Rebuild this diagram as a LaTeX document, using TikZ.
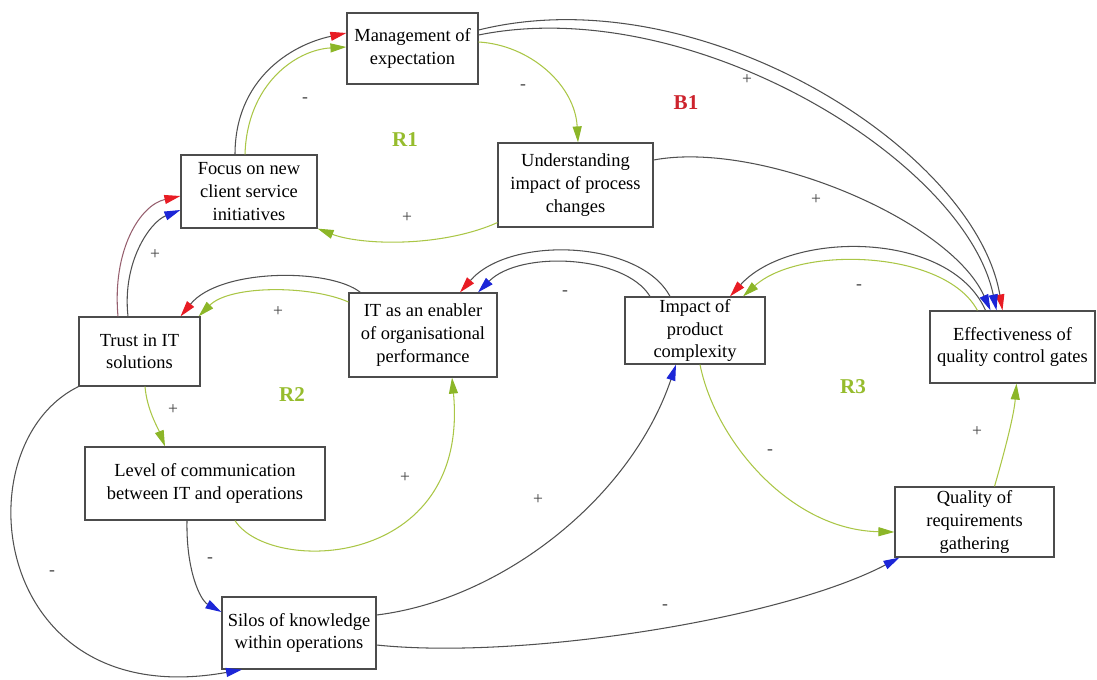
\documentclass[tikz,border=0pt]{standalone}
\usepackage{fontspec}
\setmainfont{Liberation Serif}
\usetikzlibrary{arrows.meta,calc}

\definecolor{linegray}{RGB}{80,80,80}
\definecolor{loopgreen}{RGB}{170,198,70}
\definecolor{headred}{RGB}{232,28,36}
\definecolor{headblue}{RGB}{28,38,215}
\definecolor{headgreen}{RGB}{140,182,40}
\definecolor{labgreen}{RGB}{150,188,45}
\definecolor{labred}{RGB}{205,35,45}

\tikzset{
  var/.style={draw=black!70, line width=0.7pt, align=center, inner sep=1pt,
    font=\fontsize{10.5}{13}\selectfont},
  link/.style={draw=linegray, line width=0.6pt},
  glink/.style={draw=loopgreen, line width=0.6pt},
  plink/.style={draw={rgb,255:red,150;green,95;blue,110}, line width=0.6pt},
  tored/.style={-{Triangle[length=0.32cm,width=0.18cm,color=headred]}},
  toblue/.style={-{Triangle[length=0.32cm,width=0.18cm,color=headblue]}},
  togreen/.style={-{Triangle[length=0.32cm,width=0.18cm,color=headgreen]}},
  sign/.style={text=black!75, font=\fontsize{10}{10}\selectfont, inner sep=0pt},
  loopname/.style={font=\bfseries\fontsize{12}{12}\selectfont, inner sep=0pt}
}

\begin{document}
\begin{tikzpicture}[x=0.02cm,y=-0.02cm]
        \useasboundingbox (0,0) rectangle (1097,679);

        % Top nodes
        \node[var, minimum width=2.62cm, minimum height=1.42cm] (mgmt) at (412.5,48.5) {Management of\\expectation};
        \node[var, minimum width=2.72cm, minimum height=1.46cm] (focus) at (249,191.5) {Focus on new\\client service\\initiatives};
        \node[var, minimum width=3.10cm, minimum height=1.68cm] (underst) at (575.5,185) {Understanding\\impact of process\\changes};

        % Middle row nodes
        \node[var, minimum width=2.42cm, minimum height=1.38cm] (trust) at (139.5,351.5) {Trust in IT\\solutions};
        \node[var, minimum width=2.96cm, minimum height=1.68cm] (itenab) at (423,335) {IT as an enabler\\of organisational\\performance};
        \node[var, minimum width=2.80cm, minimum height=1.34cm] (impact) at (695,330.5) {Impact of\\product\\complexity};
        \node[var, minimum width=3.30cm, minimum height=1.44cm] (effect) at (1012.5,347) {Effectiveness of\\quality control gates};

        % Bottom nodes
        \node[var, minimum width=4.80cm, minimum height=1.46cm] (level) at (205,483.5) {Level of communication\\between IT and operations};
        \node[var, minimum width=3.08cm, minimum height=1.44cm] (silos) at (299,633) {Silos of knowledge\\within operations};
        \node[var, minimum width=3.18cm, minimum height=1.40cm] (quality) at (974.5,522) {Quality of\\requirements\\gathering};

        % Loop names
        \node[loopname, text=labgreen] (r1) at (405,140) {R1};
        \node[loopname, text=labred] (b1) at (686,103) {B1};
        \node[loopname, text=labgreen] (r2) at (292,395) {R2};
        \node[loopname, text=labgreen] (r3) at (853,387) {R3};

        % R1 loop
        \draw[link, tored] ($(focus.north)+(-14,0)$) .. controls (235,80) and (290,45) .. ($(mgmt.west)+(0,-15.5)$);
        \draw[glink, togreen] ($(focus.north)+(-4,0)$) .. controls (247,85) and (295,50) .. ($(mgmt.west)+(0,-1.5)$);
        \node[sign] (s1) at (305,100) {-};
        \draw[glink, togreen] ($(mgmt.east)+(0,-6.5)$) .. controls (530,45) and (575,85) .. ($(underst.north)+(2.5,0)$);
        \node[sign] (s2) at (523,87) {-};
        \draw[glink, togreen] ($(underst.south west)+(0,-5)$) .. controls (440,248) and (360,245) .. (focus.south east);
        \node[sign] (s3) at (407,218) {+};

        % B1 loop
        \draw[link, tored] ($(mgmt.east)+(0,-18.5)$) .. controls (700,-25) and (975,150) .. ($(effect.north)+(-10,0)$);
        \draw[link, toblue] ($(mgmt.east)+(0,-13.5)$) .. controls (690,-8) and (965,160) .. ($(effect.north)+(-16,0)$);
        \node[sign] (s4) at (747,80) {+};
        \draw[link, toblue] ($(underst.east)+(0,-25)$) .. controls (760,140) and (950,220) .. ($(effect.north)+(-22,0)$);
        \node[sign] (s5) at (816,200) {+};
        \draw[link, tored] ($(effect.north)+(-27,0)$) .. controls (950,230) and (790,230) .. ($(impact.north)+(35,0)$);
        \draw[glink, togreen] ($(effect.north west)+(48,0)$) .. controls (945,250) and (800,245) .. ($(impact.north)+(48,0)$);
        \node[sign] (s6) at (859,287) {-};
        \draw[link, tored] ($(impact.north)+(-25,0)$) .. controls (640,240) and (510,235) .. ($(itenab.north)+(37,0)$);
        \draw[link, toblue] ($(impact.north)+(-45,0)$) .. controls (625,255) and (520,250) .. ($(itenab.north)+(55,0)$);
        \node[sign] (s7) at (565,293) {-};
        \draw[link, tored] ($(itenab.north west)+(12,0)$) .. controls (330,268) and (220,268) .. ($(trust.north)+(41,0)$);
        \draw[glink, togreen] ($(itenab.west)+(0,-33)$) .. controls (310,285) and (230,285) .. ($(trust.north east)+(-2,0)$);
        \node[sign] (s8) at (278,312) {+};
        \draw[plink, tored] ($(trust.north)+(-21.5,0)$) .. controls (112,250) and (140,205) .. ($(focus.west)+(0,4.5)$);
        \draw[link, toblue] ($(trust.north)+(-11.5,0)$) .. controls (122,262) and (150,222) .. ($(focus.west)+(0,18.5)$);
        \node[sign] (s9) at (155,255) {+};

        % R2 loop
        \draw[glink, togreen] ($(trust.south)+(5.5,0)$) .. controls (147,410) and (158,428) .. ($(level.north)+(-40,0)$);
        \node[sign] (s10) at (173,410) {+};
        \draw[glink, togreen] ($(level.south)+(30,0)$) .. controls (270,575) and (470,570) .. ($(itenab.south)+(29,0)$);
        \node[sign] (s11) at (405,478) {+};

        % Silos links
        \draw[link, toblue] ($(level.south)+(-18,0)$) .. controls (186,570) and (200,600) .. ($(silos.west)+(0,-21)$);
        \node[sign] (s12) at (210,560) {-};
        \draw[link, toblue] (trust.south west) .. controls (-40,445) and (-10,715) .. ($(silos.south)+(-57,0)$);
        \node[sign] (s13) at (52,573) {-};
        \draw[link, toblue] ($(silos.east)+(0,-18)$) .. controls (500,600) and (630,500) .. ($(impact.south)+(-19,0)$);
        \node[sign] (s14) at (538,500) {+};
        \draw[link, toblue] ($(silos.east)+(0,12)$) .. controls (520,660) and (780,620) .. ($(quality.south west)+(5,0)$);
        \node[sign] (s15) at (665,607) {-};

        % R3 loop
        \draw[glink, togreen] ($(impact.south)+(5,0)$) .. controls (715,440) and (790,530) .. ($(quality.west)+(0,10)$);
        \node[sign] (s16) at (770,452) {-};
        \draw[glink, togreen] ($(quality.north)+(20,0)$) .. controls (1005,450) and (1014,415) .. ($(effect.south)+(4,0)$);
        \node[sign] (s17) at (977,432) {+};
\end{tikzpicture}
\end{document}
